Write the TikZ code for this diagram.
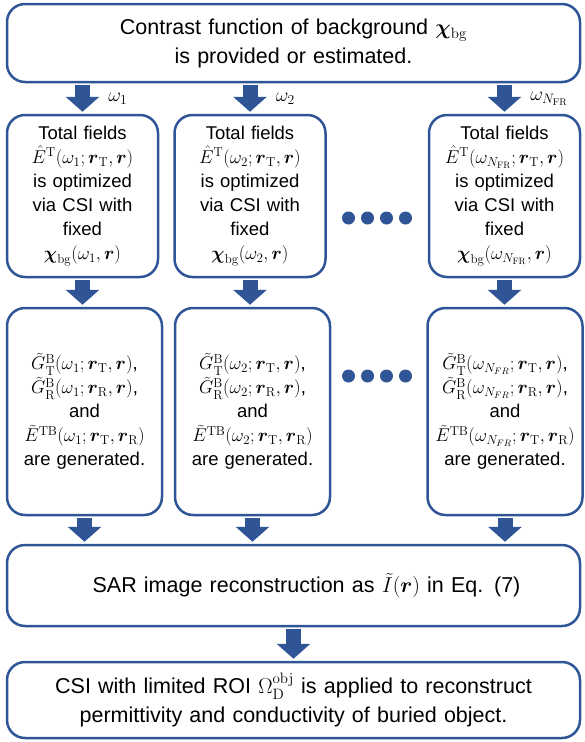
\documentclass[tikz,border=0pt]{standalone}
\usepackage{fix-cm}
\usepackage{amsmath,amssymb}
\usepackage[no-math]{fontspec}
\setmainfont{Liberation Sans}
\usetikzlibrary{positioning,arrows.meta}

\definecolor{flowblue}{HTML}{2F5597}

\begin{document}
\begin{tikzpicture}[x=1pt, y=-1pt, node distance=167.5pt, on grid,
  stage/.style={draw=flowblue, line width=2.5pt, rounded corners=18pt, align=center,
    inner xsep=4pt, inner ysep=0pt, font=\fontsize{18.5}{24}\selectfont},
  wide/.style={stage, text width=565pt, font=\fontsize{21.5}{29}\selectfont},
  flow/.style={draw=flowblue, line width=15pt,
    -{Triangle[length=15pt 0 0, width=33pt 0 0]}, shorten <=2pt, shorten >=2pt},
  freq/.style={right=15pt, font=\fontsize{19.5}{22}\selectfont},
  dot/.style={circle, fill=flowblue, inner sep=0pt, minimum size=13pt}]

  \useasboundingbox (0,0) rectangle (584,742);

  \node[wide, minimum height=78pt] (bg) at (293.5,43)
    {Contrast function of background $\boldsymbol{\chi}_{\mathrm{bg}}$\\ is provided or estimated.};

  \node[stage, text width=143pt, minimum height=162pt] (tf1) at (82.5,196)
    {Total fields\\ $\hat{E}^{\mathrm{T}}(\omega_1;\boldsymbol{r}_{\mathrm{T}},\boldsymbol{r})$\\
     is optimized\\ via CSI with\\ fixed\\ $\boldsymbol{\chi}_{\mathrm{bg}}(\omega_1,\boldsymbol{r})$};
  \node[stage, text width=143pt, minimum height=162pt] (tf2) [right of=tf1]
    {Total fields\\ $\hat{E}^{\mathrm{T}}(\omega_2;\boldsymbol{r}_{\mathrm{T}},\boldsymbol{r})$\\
     is optimized\\ via CSI with\\ fixed\\ $\boldsymbol{\chi}_{\mathrm{bg}}(\omega_2,\boldsymbol{r})$};
  \node[stage, text width=143pt, minimum height=162pt] (tf3) [right=254.5pt of tf2]
    {Total fields\\ $\hat{E}^{\mathrm{T}}(\omega_{N_{\mathrm{FR}}};\boldsymbol{r}_{\mathrm{T}},\boldsymbol{r})$\\
     is optimized\\ via CSI with\\ fixed\\ $\boldsymbol{\chi}_{\mathrm{bg}}(\omega_{N_{\mathrm{FR}}},\boldsymbol{r})$};

  \node[stage, text width=147pt, minimum height=207pt] (gen1) at (84.5,411.5)
    {$\tilde{G}^{\mathrm{B}}_{\mathrm{T}}(\omega_1;\boldsymbol{r}_{\mathrm{T}},\boldsymbol{r})$,\\
     $\tilde{G}^{\mathrm{B}}_{\mathrm{R}}(\omega_1;\boldsymbol{r}_{\mathrm{R}},\boldsymbol{r})$,\\ and\\
     $\tilde{E}^{\mathrm{TB}}(\omega_1;\boldsymbol{r}_{\mathrm{T}},\boldsymbol{r}_{\mathrm{R}})$\\ are generated.};
  \node[stage, text width=147pt, minimum height=207pt] (gen2) [right=168pt of gen1]
    {$\tilde{G}^{\mathrm{B}}_{\mathrm{T}}(\omega_2;\boldsymbol{r}_{\mathrm{T}},\boldsymbol{r})$,\\
     $\tilde{G}^{\mathrm{B}}_{\mathrm{R}}(\omega_2;\boldsymbol{r}_{\mathrm{R}},\boldsymbol{r})$,\\ and\\
     $\tilde{E}^{\mathrm{TB}}(\omega_2;\boldsymbol{r}_{\mathrm{T}},\boldsymbol{r}_{\mathrm{R}})$\\ are generated.};
  \node[stage, text width=147pt, minimum height=207pt] (gen3) [right=252.5pt of gen2]
    {$\tilde{G}^{\mathrm{B}}_{\mathrm{T}}(\omega_{N_{FR}};\boldsymbol{r}_{\mathrm{T}},\boldsymbol{r})$,\\
     $\tilde{G}^{\mathrm{B}}_{\mathrm{R}}(\omega_{N_{FR}};\boldsymbol{r}_{\mathrm{R}},\boldsymbol{r})$,\\ and\\
     $\tilde{E}^{\mathrm{TB}}(\omega_{N_{FR}};\boldsymbol{r}_{\mathrm{T}},\boldsymbol{r}_{\mathrm{R}})$\\ are generated.};

  \node[wide, minimum height=81pt] (sar) at (293.5,585.5)
    {\hspace*{26pt}SAR image reconstruction as $\tilde{I}(\boldsymbol{r})$ in Eq. (7)};
  \node[wide, minimum height=76pt] (csi) at (293.5,700)
    {CSI with limited ROI $\Omega^{\mathrm{obj}}_{\mathrm{D}}$ is applied to reconstruct\\
     permittivity and conductivity of buried object.};

  % dots between the columns
  \foreach \i in {0,...,3} {
    \node[dot] (da\i) at (348.5+19*\i,218) {};
    \node[dot] (db\i) at (348.5+19*\i,376) {};
  }

  \draw[flow] (bg.south -| tf1.north) -- node[freq] {$\omega_1$} (tf1.north);
  \draw[flow] (bg.south -| tf2.north) -- node[freq] {$\omega_2$} (tf2.north);
  \draw[flow] (bg.south -| tf3.north) -- node[freq] {$\omega_{N_{\mathrm{FR}}}$} (tf3.north);

  \draw[flow] (tf1.south) -- (tf1.south |- gen1.north);
  \draw[flow] (tf2.south) -- (tf2.south |- gen2.north);
  \draw[flow] (tf3.south) -- (tf3.south |- gen3.north);

  \draw[flow] (gen1.south) -- (gen1.south |- sar.north);
  \draw[flow] (gen2.south) -- (gen2.south |- sar.north);
  \draw[flow] (gen3.south) -- (gen3.south |- sar.north);

  \draw[flow] (sar.south) -- (csi.north);
\end{tikzpicture}
\end{document}
